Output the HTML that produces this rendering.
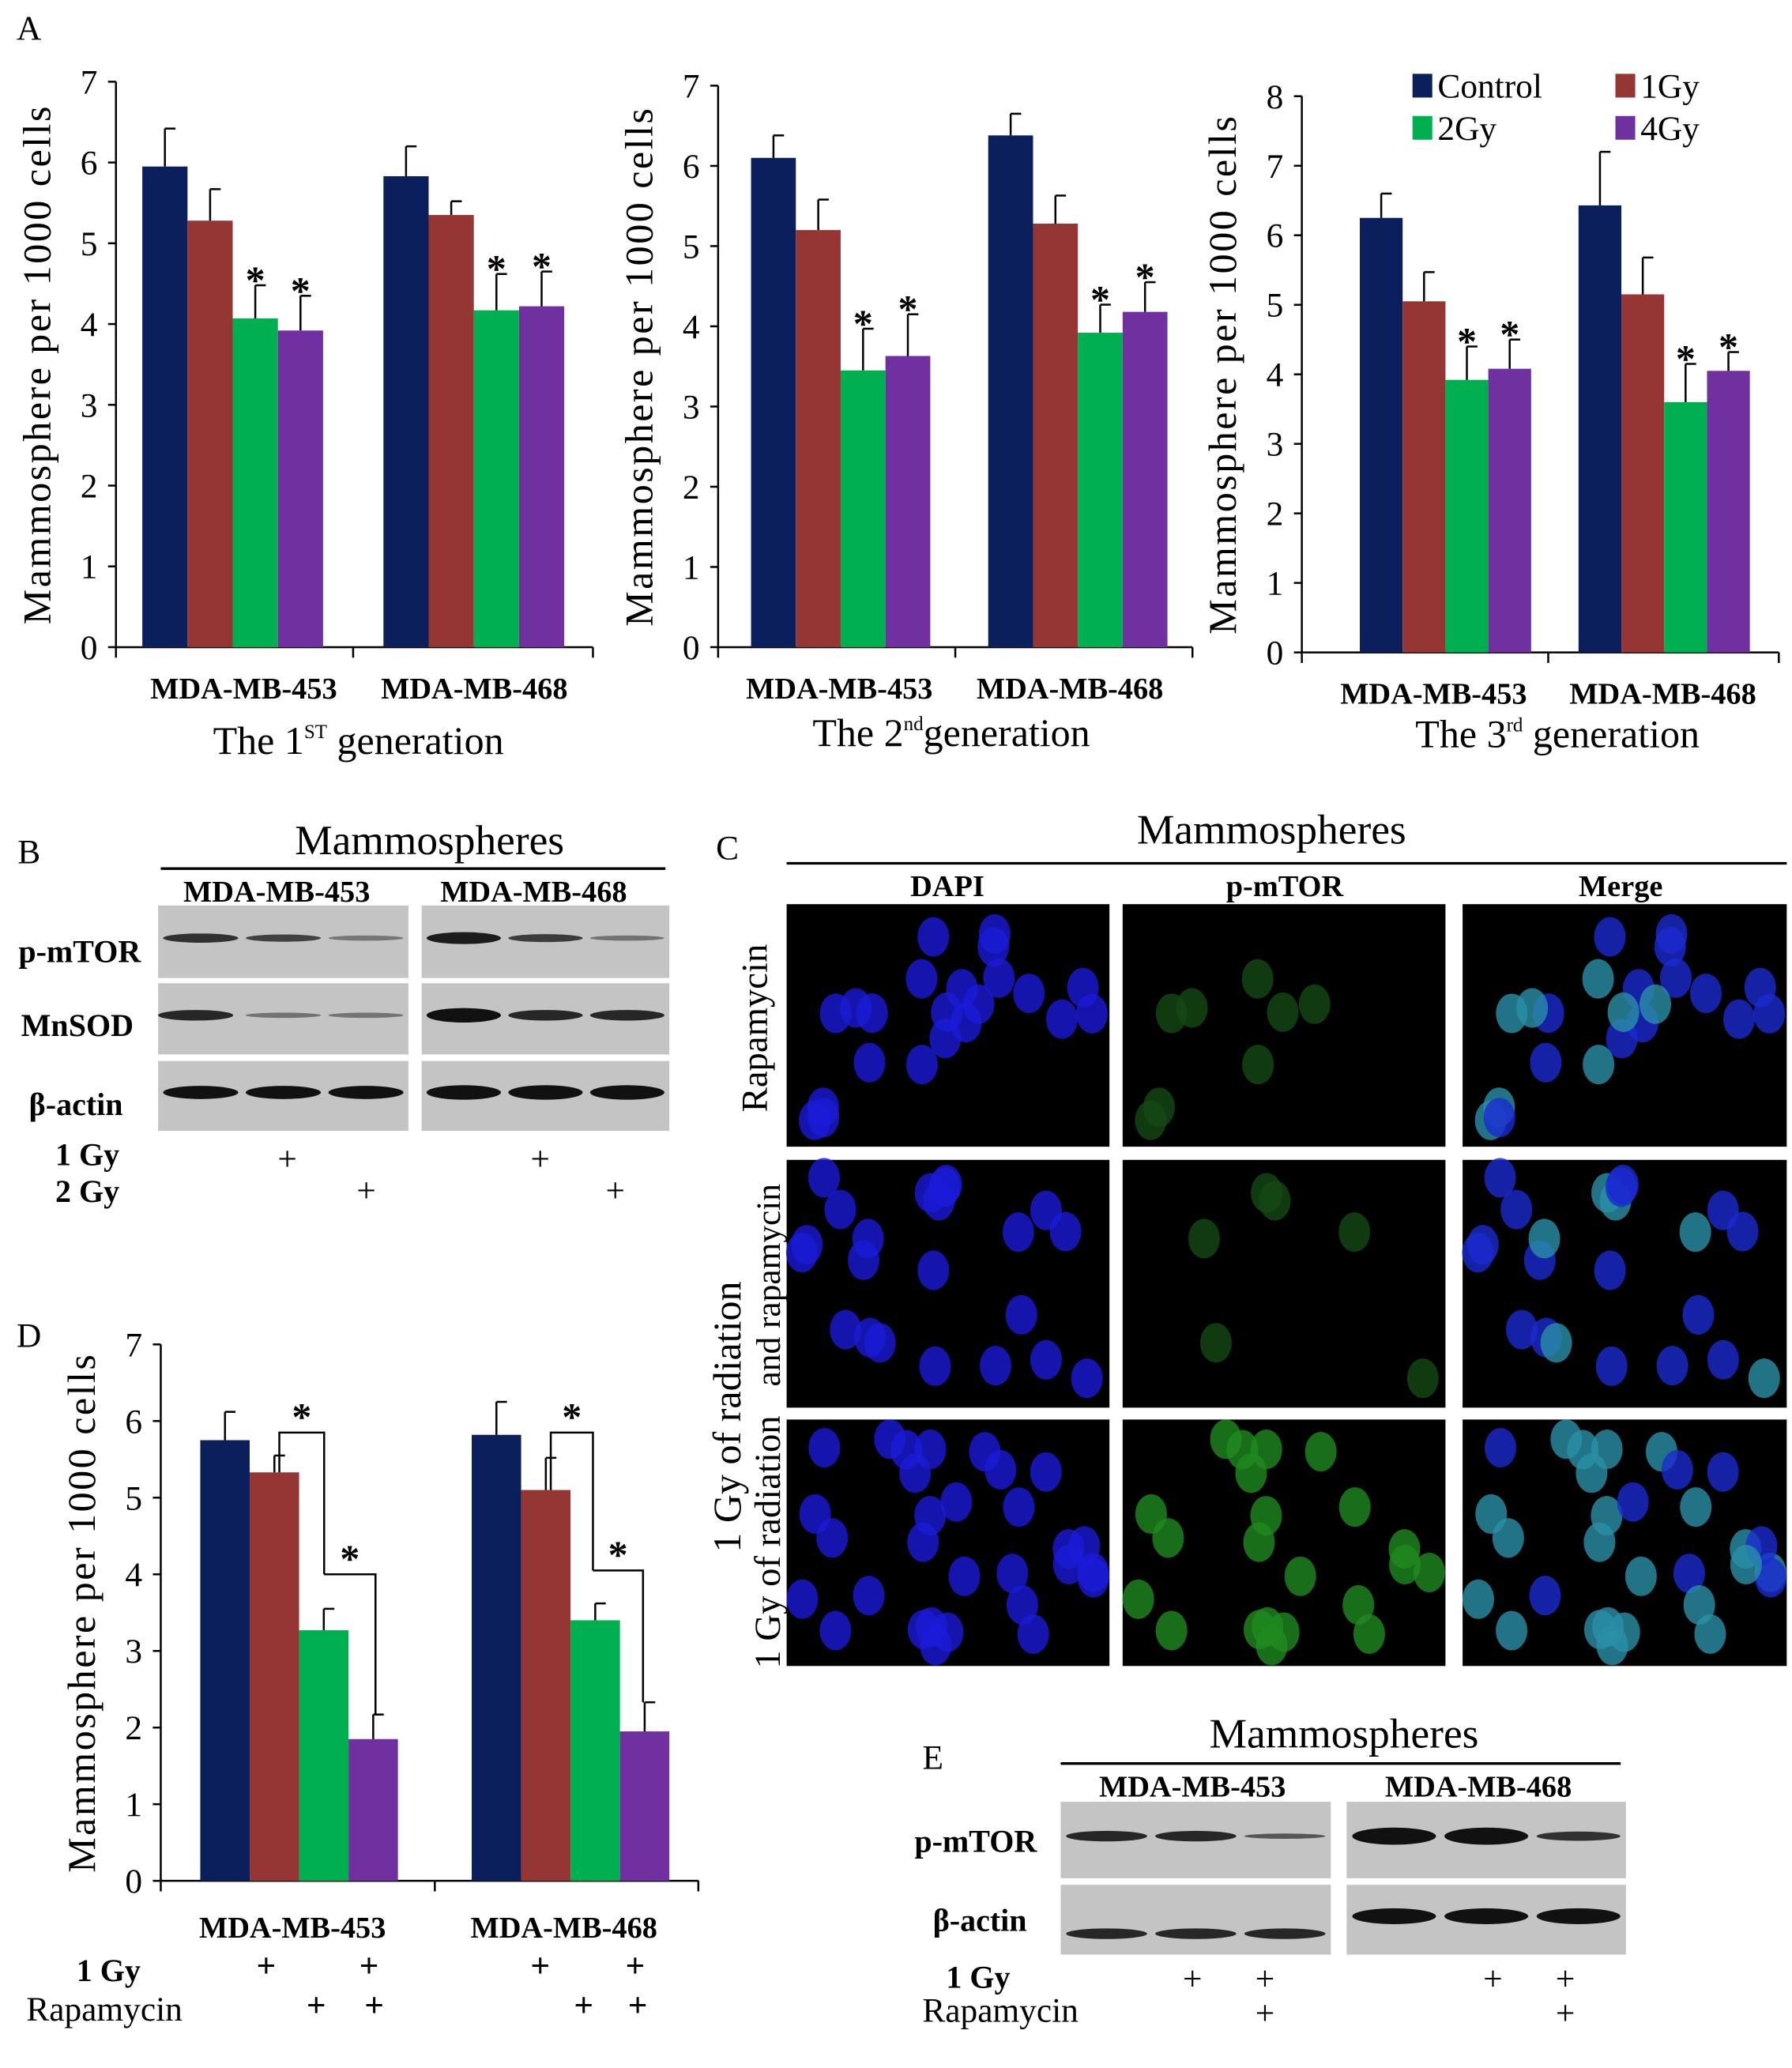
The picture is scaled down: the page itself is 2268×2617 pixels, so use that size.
<!DOCTYPE html>
<html><head><meta charset="utf-8">
<style>
html,body{margin:0;padding:0;background:#fff;}
svg{display:block;font-family:"Liberation Serif",serif;}
svg text{font-family:"Liberation Serif",serif;}
</style></head>
<body>
<svg id="fig" width="2268" height="2617" viewBox="0 0 1360 1569" preserveAspectRatio="none" xmlns="http://www.w3.org/2000/svg" font-family="Liberation Serif, serif">
<rect width="1360" height="1569" fill="#fff"/>
<g id="layer"></g>
</svg>
<script>
// ---- Data ----
const seriesNames = ["Control","1Gy","2Gy","4Gy"];
const seriesColors = ["#0b1f5c","#963634","#00b050","#7030a0"];
const categories = ["MDA-MB-453","MDA-MB-468"];
const gen1Values = [[5.95,5.28,4.07,3.92],[5.83,5.35,4.17,4.22]];
const gen1ErrTop = [[6.42,5.67,4.48,4.35],[6.2,5.52,4.62,4.65]];
const gen2Values = [[6.1,5.2,3.45,3.63],[6.38,5.28,3.92,4.18]];
const gen2ErrTop = [[6.38,5.58,3.97,4.15],[6.65,5.63,4.27,4.55]];
const gen3Values = [[6.25,5.05,3.92,4.08],[6.43,5.15,3.6,4.05]];
const gen3ErrTop = [[6.6,5.47,4.4,4.5],[7.2,5.68,4.15,4.32]];
const dValues = [[5.75,5.33,3.27,1.85],[5.82,5.1,3.4,1.95]];
const dErrTop = [[6.12,5.55,3.55,2.17],[6.25,5.52,3.62,2.33]];
const ticks7 = [0,1,2,3,4,5,6,7];
const ticks8 = [0,1,2,3,4,5,6,7,8];

const NS="http://www.w3.org/2000/svg";
const L=document.getElementById('layer');
function mk(tag,attrs,parent){const e=document.createElementNS(NS,tag);for(const k in attrs)e.setAttribute(k,attrs[k]);(parent||L).appendChild(e);return e;}
function txt(s,x,y,size,opts,parent){opts=opts||{};const t=mk('text',{x:x,y:y,'font-size':size,'font-family':'Liberation Serif, serif','text-anchor':opts.anchor||'middle','font-weight':opts.bold?'bold':'normal',fill:'#000'},parent);if(opts.rot)t.setAttribute('transform','rotate(-90 '+x+' '+y+')');if(opts.ls)t.setAttribute('letter-spacing',opts.ls);t.textContent=s;return t;}

function barChart(cfg){
  const g=mk('g',{});
  
  
  const y=v=>cfg.y0-(v/cfg.max)*(cfg.y0-cfg.yTop);
  mk('line',{x1:cfg.ax,y1:cfg.yTop,x2:cfg.ax,y2:cfg.y0,stroke:'#000','stroke-width':1.5},g);
  cfg.ticks.forEach(t=>{
    mk('line',{x1:cfg.ax-6,y1:y(t),x2:cfg.ax,y2:y(t),stroke:'#000','stroke-width':1.5},g);
    const tl=txt(String(t),cfg.ax-14,y(t)+9,26,{anchor:'end'},g);
    
    
  });
  mk('line',{x1:cfg.ax,y1:cfg.y0,x2:cfg.xEnd,y2:cfg.y0,stroke:'#000','stroke-width':1.5},g);
  [cfg.ax,cfg.midTick,cfg.xEnd].forEach(xx=>mk('line',{x1:xx,y1:cfg.y0,x2:xx,y2:cfg.y0+8,stroke:'#000','stroke-width':1.5},g));
  cfg.values.forEach((grp,gi)=>{
    grp.forEach((v,si)=>{
      const x0=cfg.groupX[gi]+si*cfg.bw;
      const b=mk('rect',{x:x0,y:y(v),width:cfg.bw,height:cfg.y0-y(v),fill:seriesColors[si]},g);
      
      
      const cx=x0+cfg.bw/2, et=cfg.err[gi][si];
      mk('line',{x1:cx,y1:y(v),x2:cx,y2:y(et),stroke:'#000','stroke-width':1.5},g);
      mk('line',{x1:cx,y1:y(et),x2:cx+8,y2:y(et),stroke:'#000','stroke-width':1.5},g);
      if(cfg.stars&&si>=2){const s=txt('*',cx,y(et)+6,30,{bold:true},g);}
    });
  });
  const yt=txt('Mammosphere per 1000 cells',cfg.ax-50,(cfg.y0+cfg.yTop)/2,30,{rot:true,ls:1.5},g);
  
  
  return {g:g,y:y};
}

function catLabels(cx1,cx2,yy,parent){
  categories.forEach((c,i)=>{const t=txt(c,[cx1,cx2][i],yy,23,{bold:true},parent);});
}

txt('A',22,30,26,{});
const c1=barChart({name:'chart-gen1',ax:88,yTop:62,y0:491,max:7,ticks:ticks7,xEnd:450,midTick:268,groupX:[108,291],bw:34.3,values:gen1Values,err:gen1ErrTop,stars:true});
catLabels(185,360,530,c1.g);
let gt=txt('',272,572,30,{},c1.g);gt.innerHTML='The 1<tspan font-size="15" dy="-12">ST</tspan><tspan dy="12"> generation</tspan>';
const c2=barChart({name:'chart-gen2',ax:545,yTop:65,y0:491,max:7,ticks:ticks7,xEnd:905,midTick:725,groupX:[570,750],bw:34,values:gen2Values,err:gen2ErrTop,stars:true});
catLabels(637,812,530,c2.g);
gt=txt('',722,566,30,{},c2.g);gt.innerHTML='The 2<tspan font-size="15" dy="-12">nd</tspan><tspan dy="12">generation</tspan>';
const c3=barChart({name:'chart-gen3',ax:988,yTop:73,y0:495,max:8,ticks:ticks8,xEnd:1350,midTick:1175,groupX:[1032,1198],bw:32.5,values:gen3Values,err:gen3ErrTop,stars:true});
catLabels(1088,1262,534,c3.g);
gt=txt('',1182,567,30,{},c3.g);gt.innerHTML='The 3<tspan font-size="15" dy="-12">rd</tspan><tspan dy="12"> generation</tspan>';
const leg=mk('g',{});
[[1072,56],[1226,56],[1072,88],[1226,88]].forEach((p,i)=>{
  const e=mk('g',{},leg);
  mk('rect',{x:p[0],y:p[1],width:15,height:18,fill:seriesColors[i]},e);
  txt(seriesNames[i],p[0]+19,p[1]+18,26,{anchor:'start'},e);
});

// Panel D
txt('D',22,1022,26,{});
const cd=barChart({name:'chart-rapamycin',ax:122,yTop:1020,y0:1427,max:7,ticks:ticks7,xEnd:530,midTick:330,groupX:[152,358],bw:37.5,values:dValues,err:dErrTop,stars:false});
catLabels(222,428,1470,cd.g);
function bracket(x1,x2,v1,v2,vt){const yt=cd.y(vt);mk('polyline',{points:`${x1},${cd.y(v1)} ${x1},${yt} ${x2},${yt} ${x2},${cd.y(v2)}`,fill:'none',stroke:'#000','stroke-width':1.5},cd.g);txt('*',(x1+x2)/2,yt-2,30,{bold:true},cd.g);}
bracket(212,246,dValues[0][1],4.0,5.85);
bracket(246,285,4.0,dErrTop[0][3],4.0);
bracket(418,450,dValues[1][1],4.05,5.85);
bracket(450,488,4.05,dErrTop[1][3],4.05);
txt('1 Gy',58,1503,24,{bold:true,anchor:'start'});
txt('Rapamycin',20,1533,26,{anchor:'start'});
[[202,1500],[280,1500],[410,1500],[482,1500],[240,1530],[284,1530],[443,1530],[484,1530]].forEach(p=>txt('+',p[0],p[1],26,{bold:true}));

function blot(x,y,w,h,bands,name){
  const g=mk('g',{});
  mk('rect',{x:x,y:y,width:w,height:h,fill:'#c4c4c4'},g);
  bands.forEach(b=>{ if(b[1]>0) mk('ellipse',{cx:x+w*b[0],cy:y+h*(b[2]||0.45),rx:w*0.15,ry:Math.max(2,5*b[1]),fill:'#111','fill-opacity':Math.min(1,0.4+b[1]*0.6)},g);});
}
txt('B',22,655,26,{});
txt('Mammospheres',326,648,32,{});
mk('line',{x1:122,y1:659,x2:505,y2:659,stroke:'#000','stroke-width':2});
txt('MDA-MB-453',210,684,23,{bold:true});txt('MDA-MB-468',405,684,23,{bold:true});
blot(120,687,190,55,[[0.17,0.7],[0.5,0.55],[0.83,0.05]],'blot-453-pmtor');
blot(320,687,188,55,[[0.17,0.9],[0.5,0.6],[0.83,0.1]],'blot-468-pmtor');
blot(120,746,190,54,[[0.15,0.8],[0.5,0.1],[0.83,0.08]],'blot-453-mnsod');
blot(320,746,188,54,[[0.17,1.1],[0.5,0.8],[0.83,0.8]],'blot-468-mnsod');
blot(120,805,190,53,[[0.17,1],[0.5,1],[0.83,1]],'blot-453-actin');
blot(320,805,188,53,[[0.17,1.1],[0.5,1.1],[0.83,1.1]],'blot-468-actin');
txt('p-mTOR',14,730,24,{bold:true,anchor:'start'});
txt('MnSOD',16,786,24,{bold:true,anchor:'start'});
txt('β-actin',22,846,24,{bold:true,anchor:'start'});
txt('1 Gy',42,884,24,{bold:true,anchor:'start'});txt('2 Gy',42,912,24,{bold:true,anchor:'start'});
[[218,888],[410,888],[278,912],[467,912]].forEach(p=>txt('+',p[0],p[1],26,{}));

txt('C',552,652,26,{});
txt('Mammospheres',965,640,32,{});
mk('line',{x1:597,y1:655,x2:1356,y2:655,stroke:'#000','stroke-width':2});
txt('DAPI',719,680,23,{bold:true});txt('p-mTOR',975,680,23,{bold:true});txt('Merge',1230,680,23,{bold:true});
txt('Rapamycin',582,780,28,{rot:true});
txt('1 Gy of radiation',562,1075,30,{rot:true});
txt('and rapamycin',592,975,26,{rot:true});
txt('1 Gy of radiation',592,1170,28,{rot:true});
let seed=7;function rnd(){seed=(seed*9301+49297)%233280;return seed/233280;}
const colX=[597,852,1110],rowY=[686,880,1077],cw=[245,245,246],ch=[184,188,187];
const rowNames=['rapamycin','radiation-rapamycin','radiation'];
rowY.forEach((ry,ri)=>{
  const cells=[];const n=ri===2?30:22;
  for(let k=0;k<n;k++)cells.push([rnd(),rnd(),rnd()]);
  colX.forEach((cx,ci)=>{
    const g=mk('g',{});
    mk('rect',{x:cx,y:ry,width:cw[ci],height:ch[ri],fill:'#000'},g);
    cells.forEach(c=>{
      const green=ri===2?c[2]>0.35:(ri===0?c[2]>0.55:c[2]>0.75);
      let fill=null;
      if(ci===0)fill='#1a1ad8';
      else if(ci===1){if(green)fill=ri===2?'#1f8a1f':'#144a14';}
      else fill=green?'#2a90a8':'#1a2ad0';
      if(fill)mk('ellipse',{cx:cx+10+c[0]*(cw[ci]-20),cy:ry+10+c[1]*(ch[ri]-20),rx:12,ry:15,fill:fill,'fill-opacity':0.8},g);
    });
  });
});

txt('E',708,1342,26,{});
txt('Mammospheres',1020,1326,32,{});
mk('line',{x1:805,y1:1338,x2:1230,y2:1338,stroke:'#000','stroke-width':2});
txt('MDA-MB-453',905,1363,23,{bold:true});txt('MDA-MB-468',1122,1363,23,{bold:true});
blot(805,1367,205,58,[[0.17,0.8],[0.5,0.8],[0.83,0.35]],'blot-e-453-pmtor');
blot(1022,1367,212,58,[[0.17,1.3],[0.5,1.3],[0.83,0.7]],'blot-e-468-pmtor');
blot(805,1430,205,53,[[0.17,0.8,0.7],[0.5,0.8,0.7],[0.83,0.8,0.7]],'blot-e-453-actin');
blot(1022,1430,212,53,[[0.17,1.2,0.45],[0.5,1.2,0.45],[0.83,1.2,0.45]],'blot-e-468-actin');
txt('p-mTOR',694,1405,24,{bold:true,anchor:'start'});
txt('β-actin',708,1465,24,{bold:true,anchor:'start'});
txt('1 Gy',718,1508,24,{bold:true,anchor:'start'});
txt('Rapamycin',700,1534,26,{anchor:'start'});
[[905,1510],[960,1510],[1133,1510],[1188,1510],[960,1536],[1188,1536]].forEach(p=>txt('+',p[0],p[1],26,{}));
</script>
</body></html>
